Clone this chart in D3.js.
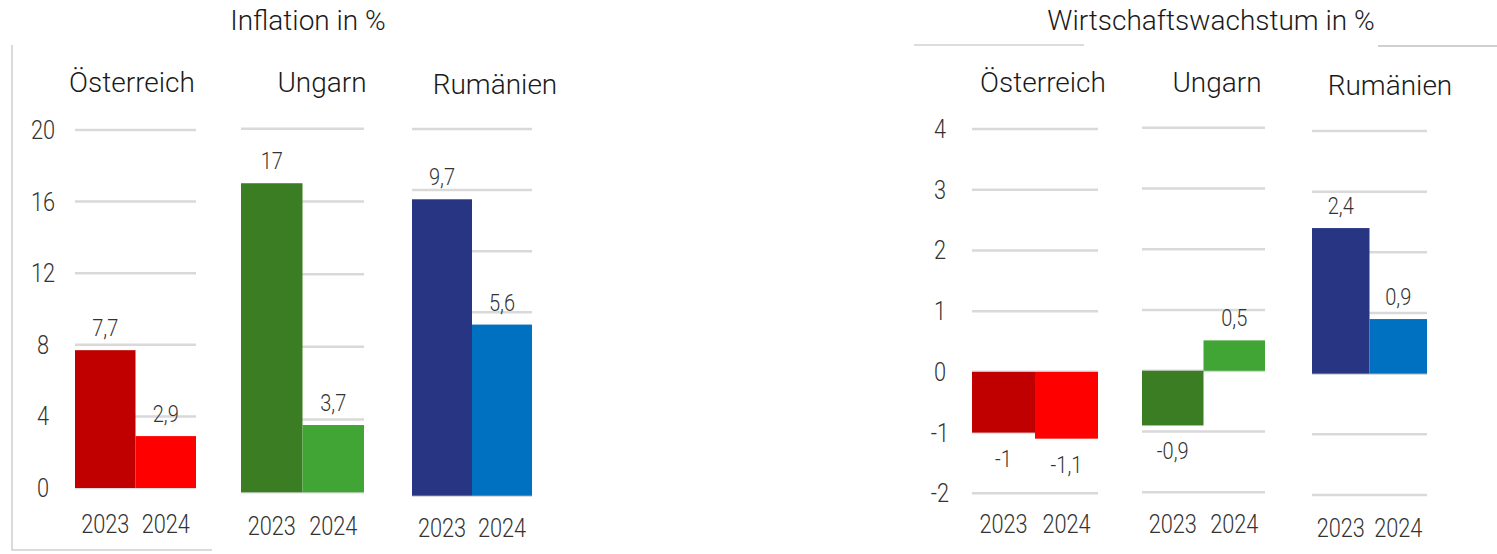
<!DOCTYPE html>
<html>
<head>
<meta charset="utf-8">
<script src="https://cdn.jsdelivr.net/npm/d3@7"></script>
<style>
  body { margin: 0; background: #fff; }
  svg { display: block; font-family: Roboto, "Noto Sans", sans-serif; font-weight: 300; }
</style>
</head>
<body>
<script>
// Werte aus der Grafik
const countries = ["Österreich", "Ungarn", "Rumänien"];
const years = ["2023", "2024"];
const inflation2023 = [7.7, 17, 9.7];
const inflation2024 = [2.9, 3.7, 5.6];
const growth2023 = [-1, -0.9, 2.4];
const growth2024 = [-1.1, 0.5, 0.9];
const colors2023 = ["#c00000", "#3b7d23", "#283583"];
const colors2024 = ["#ff0000", "#41a535", "#0070c0"];
const inflationTicks = [[0, 4, 8, 12, 16, 20], [0, 4, 8, 12, 16, 20], [0, 2, 4, 6, 8, 10, 12]];
const growthTicks = [-2, -1, 0, 1, 2, 3, 4];

const width = 1497;
const height = 554;
const svg = d3.select("body").append("svg")
              .attr("width", width)
              .attr("height", height);

const de = d3.formatLocale({ decimal: ",", thousands: ".", grouping: [3], currency: ["", " €"], minus: "-" });
const fmt = de.format("~g");

const gridColor = "#d9d9d9";
const textColor = "#333";
const narrow = 0.87; // Ziffern der Vorlage sind schmaler (DIN)

// Rahmenreste der Vorlage
const frame = svg.append("g").attr("stroke", "#d0d0d0").attr("stroke-width", 1.5).attr("fill", "none");
frame.append("path").attr("d", "M12,45V550H212");
frame.append("path").attr("d", "M914,45H1084");
frame.append("path").attr("d", "M1378,46H1497").attr("stroke", "#c0c0c0");

const at = (x, y) => `translate(${x},${y}) scale(${narrow},1)`;

function drawChart(cfg) {
    const g = svg.append("g");

    g.append("text")
     .attr("x", cfg.titleX).attr("y", 30)
     .attr("text-anchor", "middle")
     .attr("font-size", 28)
     .attr("fill", "#1a1a1a")
     .text(cfg.title);

    cfg.layout.forEach((p, i) => {
        const pg = g.append("g");
        const y = d3.scaleLinear().domain(cfg.domains[i]).range([p.bottom, p.top]);
        const x = d3.scaleBand().domain(years).range([p.x0, p.x1]).padding(0);
        const vals = [cfg.v2023[i], cfg.v2024[i]];
        const cols = [colors2023[i], colors2024[i]];

        // Gitternetz
        pg.selectAll(".grid")
          .data(cfg.ticks[i])
          .join("line")
          .attr("class", "grid")
          .attr("x1", p.x0).attr("x2", p.x1)
          .attr("y1", d => y(d)).attr("y2", d => y(d))
          .attr("stroke", gridColor)
          .attr("stroke-width", 2.5);

        // Achsenbeschriftung nur im ersten Feld
        if (i === 0) {
            pg.selectAll(".tick")
              .data(cfg.ticks[i])
              .join("text")
              .attr("transform", d => at(cfg.tickX, y(d) + 9))
              .attr("text-anchor", "middle")
              .attr("font-size", 25)
              .attr("fill", textColor)
              .text(d => fmt(d));
        }

        // Balken
        pg.selectAll(".bar")
          .data(vals)
          .join("rect")
          .attr("class", "bar")
          .attr("x", (d, j) => x(years[j]))
          .attr("width", x.bandwidth())
          .attr("y", d => y(Math.max(0, d)))
          .attr("height", d => Math.abs(y(d) - y(0)))
          .attr("fill", (d, j) => cols[j]);

        // Werte
        pg.selectAll(".val")
          .data(vals)
          .join("text")
          .attr("transform", (d, j) => at(x(years[j]) + x.bandwidth() / 2,
                                          d >= 0 ? y(d) - 14 : y(d) + 34))
          .attr("text-anchor", "middle")
          .attr("font-size", 23)
          .attr("fill", textColor)
          .text(d => fmt(d));

        // Länder
        pg.append("text")
          .attr("x", p.nameX).attr("y", p.nameY)
          .attr("text-anchor", "middle")
          .attr("font-size", 28)
          .attr("fill", "#1a1a1a")
          .text(countries[i]);

        // Jahre
        pg.selectAll(".year")
          .data(years)
          .join("text")
          .attr("transform", d => at(x(d) + x.bandwidth() / 2, p.yearY))
          .attr("text-anchor", "middle")
          .attr("font-size", 25)
          .attr("fill", textColor)
          .text(d => d);
    });
}

drawChart({
    title: "Inflation in %",
    titleX: 308,
    tickX: 43,
    v2023: inflation2023,
    v2024: inflation2024,
    ticks: inflationTicks,
    domains: [[0, 20], [0, 20], [0, 12]],
    layout: [
        { x0: 75, x1: 196, top: 130, bottom: 488, nameX: 132, nameY: 92, yearY: 533 },
        { x0: 241, x1: 364, top: 128.7, bottom: 492.3, nameX: 322, nameY: 92, yearY: 535 },
        { x0: 412, x1: 532, top: 129, bottom: 495.7, nameX: 495, nameY: 94, yearY: 537 }
    ]
});

drawChart({
    title: "Wirtschaftswachstum in %",
    titleX: 1211,
    tickX: 940,
    v2023: growth2023,
    v2024: growth2024,
    ticks: [growthTicks, growthTicks, growthTicks],
    domains: [[-2, 4], [-2, 4], [-2, 4]],
    layout: [
        { x0: 972, x1: 1098, top: 129, bottom: 493.3, nameX: 1043, nameY: 92, yearY: 533 },
        { x0: 1142, x1: 1265, top: 127.7, bottom: 492.3, nameX: 1217, nameY: 92, yearY: 533 },
        { x0: 1312, x1: 1427, top: 131, bottom: 495, nameX: 1390, nameY: 95, yearY: 537 }
    ]
});
</script>
</body>
</html>
